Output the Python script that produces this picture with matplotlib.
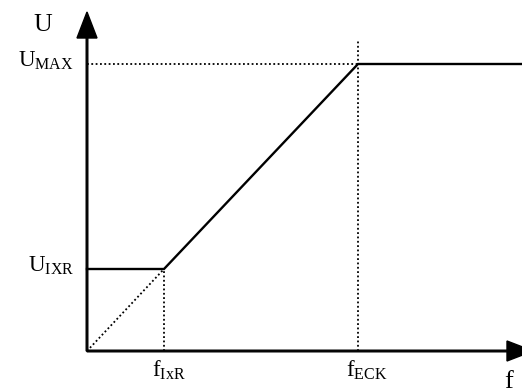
import matplotlib
matplotlib.use('Agg')
import matplotlib.pyplot as plt

plt.rcParams['font.family'] = ['Liberation Serif', 'DejaVu Serif']
plt.rcParams['mathtext.fontset'] = 'custom'
plt.rcParams['mathtext.rm'] = 'Liberation Serif'

# characteristic U(f), units roughly pixels of the original sketch
f_ixr = 77
f_eck = 271
f_end = 440
u_ixr = 82
u_max = 287

f_curve = [0, f_ixr, f_eck, f_end]
u_curve = [u_ixr, u_ixr, u_max, u_max]

tick_labels_f = [r'$\mathrm{f_{IxR}}$', r'$\mathrm{f_{ECK}}$']
tick_labels_u = [r'$\mathrm{U_{IXR}}$', r'$\mathrm{U_{MAX}}$']

fig = plt.figure(figsize=(5.22, 3.92), dpi=100)
ax = fig.add_axes([0, 0, 1, 1])
ax.set_xlim(-87, 435)
ax.set_ylim(-41, 351)
ax.axis('off')

dot = dict(color='black', lw=1.3, linestyle=(0, (1, 1.4)))

# helper lines
ax.plot([0, f_ixr], [0, u_ixr], **dot)
ax.plot([f_ixr, f_ixr], [0, u_ixr], **dot)
ax.plot([0, f_eck], [u_max, u_max], **dot)
ax.plot([f_eck, f_eck], [0, 311], **dot)

# curve
ax.plot(f_curve, u_curve, color='black', lw=1.7, solid_joinstyle='miter')

# axes with arrows
ax.arrow(0, 0, 0, 339, width=1.6, head_width=20, head_length=26,
         length_includes_head=True, color='black')
ax.arrow(0, 0, 446, 0, width=1.6, head_width=20, head_length=26,
         length_includes_head=True, color='black')

ax.text(-44, 320, 'U', fontsize=18.5, ha='center', va='baseline')
ax.text(417, -37, 'f', fontsize=19, ha='left', va='baseline')

for u, lab in zip([u_ixr, u_max], tick_labels_u):
    ax.text(-13, u - 3, lab, fontsize=16.5, ha='right', va='baseline')
for f, lab in zip([f_ixr, f_eck], tick_labels_f):
    ax.text(f - 12, -26, lab, fontsize=16.5, ha='left', va='baseline')

fig.savefig('out.png', dpi=100)
